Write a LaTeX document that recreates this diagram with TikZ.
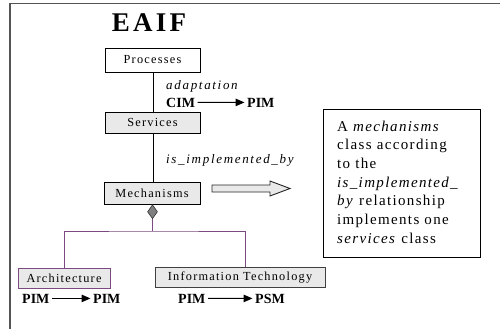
\documentclass[tikz,border=0pt]{standalone}
\usepackage{fontspec}
\setmainfont{Liberation Serif}
\newfontfamily\titlefont[LetterSpace=12]{Liberation Serif}
\newfontfamily\lblfont[LetterSpace=10]{Liberation Serif}
\newfontfamily\itfont[LetterSpace=13]{Liberation Serif}
\newfontfamily\notefont[LetterSpace=9]{Liberation Serif}
\usetikzlibrary{arrows.meta,shapes.geometric}
\definecolor{framegray}{HTML}{555555}
\definecolor{boxfill}{HTML}{E9E9E9}
\definecolor{umlpurple}{HTML}{7A4A80}
\definecolor{diamondgray}{HTML}{7F7F7F}
\tikzset{
  box/.style={draw=black, line width=0.9pt, inner sep=0pt,
    font=\lblfont\fontsize{12.3}{14}\selectfont},
  graybox/.style={box, fill=boxfill},
  rel/.style={anchor=base west, inner sep=0pt,
    font=\itfont\itshape\fontsize{13}{15}\selectfont},
  mdl/.style={inner sep=2.5pt, font=\bfseries\fontsize{14}{16}\selectfont},
  mdlarrow/.style={line width=1pt, -{Triangle[length=9pt,width=7.5pt]}},
  conn/.style={line width=1pt, draw=black},
  pconn/.style={line width=0.9pt, draw=umlpurple},
}
\begin{document}
\begin{tikzpicture}[x=1pt,y=-1pt]
\useasboundingbox (0,0) rectangle (500,329);
% frame
\draw[framegray, line width=1.6pt] (10,329) -- (10,3.5) -- (500,3.5);
% title
\node[anchor=base, inner sep=0pt, font=\titlefont\bfseries\fontsize{27}{30}\selectfont] (title) at (149,32) {EAIF};
% boxes
\node[box, fill=white, minimum width=95pt, minimum height=24pt] (proc) at (152.5,60) {Processes};
\node[graybox, minimum width=95pt, minimum height=21pt] (serv) at (152.5,122.5) {Services};
\node[graybox, minimum width=96pt, minimum height=22pt] (mech) at (152,193) {Mechanisms};
\node[graybox, draw=umlpurple, minimum width=92pt, minimum height=20pt] (arch) at (64,278) {Architecture};
\node[graybox, draw=black!75, minimum width=170pt, minimum height=20pt] (itech) at (240,277) {Information Technology};
% connectors
\draw[conn] (proc.south -| 153,0) -- (serv.north -| 153,0);
\draw[conn] (serv.south -| 153,0) -- (mech.north -| 153,0);
\node[diamond, draw=black!80, fill=diamondgray, line width=0.6pt, minimum width=10pt, minimum height=14pt, inner sep=0pt, anchor=north] (dia) at (mech.south -| 152.5,0) {};
\coordinate (junc) at (152.5,231);
\draw[pconn] (dia.south) -- (junc);
\draw[pconn] (arch.north) |- (junc) -| (itech.north -| 245,0);
% relation labels
\node[rel] (adapt) at (166,89) {adaptation};
\node[mdl, anchor=base west] (cim) at (163.5,107) {CIM};
\node[mdl, anchor=base west] (pim1) at (244.5,107) {PIM};
\draw[mdlarrow] (cim.east) -- (pim1.west);
\node[rel] (impl) at (166,163) {is\_implemented\_by};
% block arrow
\filldraw[fill=boxfill, draw=black!85, line width=0.9pt]
  (212,185) -- (270,185) -- (270,181) -- (290,188.5) -- (270,196) -- (270,192) -- (212,192) -- cycle;
% model labels under lower boxes
\node[mdl, anchor=base west] (pima) at (19.5,303) {PIM};
\node[mdl, anchor=base west] (pimb) at (90.5,303) {PIM};
\draw[mdlarrow] (pima.east) -- (pimb.west);
\node[mdl, anchor=base west] (pimc) at (175.5,303) {PIM};
\node[mdl, anchor=base west] (psm) at (252.5,303) {PSM};
\draw[mdlarrow] (pimc.east) -- (psm.west);
% note box
\node[draw=black, line width=0.9pt, minimum width=157pt, minimum height=148pt, inner sep=0pt] (note) at (401.5,183) {};
\node[anchor=north west, inner sep=0pt, align=left,
  font=\notefont\fontsize{15}{18.7}\selectfont] (notetext) at (337,120.5)
  {A \textit{mechanisms}\\ class according\\ to the\\ \textit{is\_implemented\_}\\ \textit{by} relationship\\ implements one\\ \textit{services} class};
\end{tikzpicture}
\end{document}
